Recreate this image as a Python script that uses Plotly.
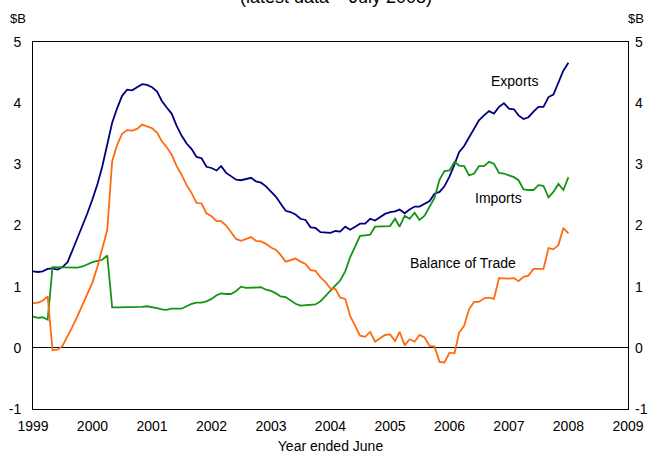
import pandas as pd
import plotly.graph_objects as go

# monthly values, $B, Jan 1999 onwards
exports = [1.25, 1.24, 1.25, 1.29, 1.30, 1.28, 1.32, 1.40, 1.60, 1.80,
           1.98, 2.20, 2.43, 2.68, 2.96, 3.35, 3.68, 3.92, 4.12, 4.22,
           4.21, 4.26, 4.31, 4.30, 4.26, 4.19, 4.04, 3.93, 3.83, 3.63,
           3.47, 3.34, 3.25, 3.12, 3.10, 2.96, 2.94, 2.90, 2.97, 2.86,
           2.80, 2.75, 2.74, 2.76, 2.78, 2.72, 2.70, 2.64, 2.55, 2.47,
           2.36, 2.24, 2.22, 2.18, 2.11, 2.09, 1.97, 1.96, 1.89, 1.89,
           1.88, 1.91, 1.90, 1.98, 1.93, 1.98, 2.03, 2.03, 2.11, 2.08,
           2.14, 2.19, 2.22, 2.23, 2.26, 2.20, 2.26, 2.31, 2.31, 2.36,
           2.40, 2.52, 2.55, 2.64, 2.80, 3.00, 3.20, 3.30, 3.44, 3.58,
           3.72, 3.80, 3.87, 3.83, 3.94, 4.00, 3.91, 3.90, 3.80, 3.74,
           3.77, 3.86, 3.94, 3.94, 4.10, 4.14, 4.35, 4.53, 4.66]

imports = [0.51, 0.49, 0.50, 0.46, 1.32, 1.32, 1.32, 1.31, 1.32, 1.31,
           1.33, 1.37, 1.40, 1.42, 1.44, 1.51, 0.66, 0.66, 0.66, 0.66,
           0.66, 0.67, 0.67, 0.68, 0.67, 0.65, 0.63, 0.62, 0.64, 0.64,
           0.64, 0.68, 0.72, 0.74, 0.74, 0.76, 0.80, 0.86, 0.89, 0.88,
           0.88, 0.93, 1.00, 0.98, 0.98, 0.98, 0.99, 0.95, 0.93, 0.89,
           0.84, 0.83, 0.78, 0.72, 0.69, 0.70, 0.70, 0.71, 0.76, 0.84,
           0.92, 1.02, 1.10, 1.25, 1.48, 1.66, 1.83, 1.84, 1.85, 1.98,
           1.98, 1.98, 1.99, 2.11, 1.98, 2.16, 2.11, 2.21, 2.09, 2.16,
           2.30, 2.45, 2.75, 2.89, 2.90, 3.04, 2.98, 2.97, 2.82, 2.85,
           2.97, 2.97, 3.04, 3.01, 2.86, 2.85, 2.82, 2.79, 2.74, 2.59,
           2.58, 2.58, 2.66, 2.65, 2.46, 2.55, 2.68, 2.58, 2.79]

balance = [0.73, 0.74, 0.77, 0.84, -0.04, -0.03, 0.03, 0.18, 0.35, 0.52,
           0.70, 0.88, 1.07, 1.33, 1.61, 1.93, 3.05, 3.32, 3.50, 3.56,
           3.55, 3.58, 3.65, 3.62, 3.59, 3.52, 3.38, 3.28, 3.16, 2.97,
           2.83, 2.66, 2.53, 2.37, 2.36, 2.20, 2.15, 2.07, 2.07, 2.00,
           1.90, 1.78, 1.75, 1.78, 1.81, 1.75, 1.74, 1.70, 1.64, 1.60,
           1.52, 1.41, 1.44, 1.46, 1.41, 1.37, 1.27, 1.26, 1.15, 1.08,
           0.97, 0.96, 0.82, 0.80, 0.52, 0.36, 0.20, 0.18, 0.26, 0.10,
           0.15, 0.21, 0.22, 0.11, 0.26, 0.04, 0.14, 0.10, 0.21, 0.17,
           0.03, 0.02, -0.23, -0.24, -0.08, -0.09, 0.25, 0.36, 0.63, 0.75,
           0.75, 0.81, 0.82, 0.80, 1.14, 1.13, 1.13, 1.14, 1.09, 1.16,
           1.18, 1.29, 1.29, 1.29, 1.63, 1.61, 1.68, 1.96, 1.87]

dates = pd.date_range('1999-01-01', periods=len(exports), freq='MS')
year_ticks = [str(y) for y in range(1999, 2010)]
y_ticks = [-1, 0, 1, 2, 3, 4, 5]
y_labels = ['-1', '0', '1', '2', '3', '4', '5']

font = dict(family='Liberation Sans, Arial, sans-serif', size=14, color='black')

fig = go.Figure()
fig.add_trace(go.Scatter(x=dates, y=exports, mode='lines', name='Exports',
                         line=dict(color='#000080', width=1.8)))
fig.add_trace(go.Scatter(x=dates, y=imports, mode='lines', name='Imports',
                         line=dict(color='#149414', width=1.8)))
fig.add_trace(go.Scatter(x=dates, y=balance, mode='lines', name='Balance of Trade',
                         line=dict(color='#ff6a10', width=1.8)))
# right-hand axis copy
fig.add_trace(go.Scatter(x=[dates[0]], y=[None], yaxis='y2', showlegend=False,
                         hoverinfo='skip'))

fig.update_layout(
    width=659, height=455,
    margin=dict(l=33, r=31, t=42, b=46, autoexpand=False),
    paper_bgcolor='white', plot_bgcolor='white',
    showlegend=False,
    font=font,
    xaxis=dict(type='date', range=['1999-01-01', '2009-01-01'],
               tickvals=[y + '-01-01' for y in year_ticks], ticktext=year_ticks,
               showgrid=False, zeroline=False, showline=True, mirror=True,
               linecolor='black', linewidth=1, ticks='', ticklabelstandoff=4,
               automargin=False,
               title=dict(text='Year ended June', standoff=8,
                          font=dict(size=14))),
    yaxis=dict(range=[-1, 5], tickvals=y_ticks, ticktext=y_labels,
               showgrid=False, zeroline=True,
               zerolinecolor='black', zerolinewidth=1, showline=True, mirror=True,
               linecolor='black', linewidth=1, ticks='', ticklabelstandoff=8,
               automargin=False),
    yaxis2=dict(range=[-1, 5], tickvals=y_ticks, ticktext=y_labels,
                overlaying='y', side='right', automargin=False,
                showgrid=False, zeroline=False, showline=False, ticks='',
                ticklabelstandoff=6),
    annotations=[
        dict(text='(latest data – July 2008)', x=0.51, y=1.122, xref='paper',
             yref='paper', xanchor='center', yanchor='middle',
             showarrow=False, font=dict(size=18)),
        dict(text='$B', x=-0.026, y=1.065, xref='paper', yref='paper',
             xanchor='center', yanchor='middle', showarrow=False,
             font=dict(size=13)),
        dict(text='$B', x=1.014, y=1.065, xref='paper', yref='paper',
             xanchor='center', yanchor='middle', showarrow=False,
             font=dict(size=13)),
        dict(text='Exports', x='2007-02-03', y=4.36, showarrow=False),
        dict(text='Imports', x='2006-10-27', y=2.45, showarrow=False),
        dict(text='Balance of Trade', x='2006-03-24', y=1.38, showarrow=False),
    ],
)

# page body has a default 8px margin; drop it so the figure sits at 0,0
fig.write_html('out.html', config={'displayModeBar': False},
               post_script="document.body.style.margin='0';")
